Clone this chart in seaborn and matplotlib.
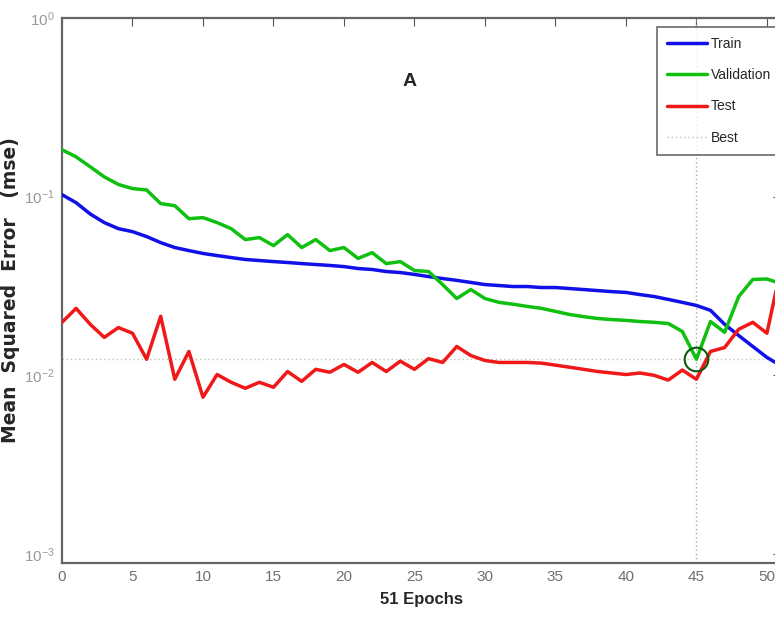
import numpy as np
import pandas as pd
import matplotlib
matplotlib.use("Agg")
import matplotlib.pyplot as plt
import seaborn as sns
from matplotlib.lines import Line2D

epochs = list(range(52))
train = [0.1026, 0.0925, 0.080, 0.0716, 0.0662, 0.0637, 0.0598, 0.0553, 0.0519, 0.0499,
         0.0481, 0.0468, 0.0456, 0.0445, 0.0439, 0.0433, 0.0428, 0.0422, 0.0417, 0.0412,
         0.0406, 0.0396, 0.0391, 0.0381, 0.0376, 0.0367, 0.0357, 0.0348, 0.0340, 0.0331,
         0.0322, 0.0318, 0.0314, 0.0314, 0.0310, 0.0310, 0.0306, 0.0302, 0.0298, 0.0294,
         0.0291, 0.0283, 0.0276, 0.0266, 0.0256, 0.0246, 0.0231, 0.0193, 0.0167, 0.0145,
         0.0126, 0.0113]
validation = [0.183, 0.167, 0.147, 0.129, 0.117, 0.111, 0.109, 0.0914, 0.089, 0.0753,
              0.0763, 0.0716, 0.0662, 0.0575, 0.0590, 0.0532, 0.0613, 0.0519, 0.0575, 0.0499,
              0.0519, 0.0451, 0.0486, 0.0422, 0.0433, 0.0386, 0.0381, 0.0322, 0.0269, 0.0302,
              0.0269, 0.0256, 0.0250, 0.0243, 0.0237, 0.0228, 0.0219, 0.0213, 0.0208, 0.0205,
              0.0203, 0.0200, 0.0198, 0.0195, 0.0176, 0.0123, 0.0200, 0.0174, 0.0276, 0.0344,
              0.0346, 0.0326]
test = [0.0198, 0.0237, 0.0193, 0.0163, 0.0185, 0.0172, 0.0123, 0.0214, 0.0095, 0.0136,
        0.00754, 0.0101, 0.00914, 0.00846, 0.00914, 0.00857, 0.0105, 0.00925, 0.0108, 0.0104,
        0.0115, 0.0104, 0.0118, 0.0105, 0.0120, 0.0108, 0.0124, 0.0118, 0.0145, 0.0129,
        0.0121, 0.0118, 0.0118, 0.0118, 0.0117, 0.0114, 0.0111, 0.0108, 0.0105, 0.0103,
        0.0101, 0.0103, 0.0100, 0.0094, 0.0107, 0.0095, 0.0136, 0.0143, 0.0181, 0.0198,
        0.0172, 0.040]
best_epoch = 45
best_value = 0.0123
x_ticks = [0, 5, 10, 15, 20, 25, 30, 35, 40, 45, 50]
y_ticks = [1e-3, 1e-2, 1e-1, 1e0]

sns.set_style("white")
plt.rcParams["font.family"] = ["Liberation Sans", "DejaVu Sans"]
plt.rcParams["mathtext.fontset"] = "custom"
plt.rcParams["mathtext.rm"] = "Liberation Sans"

df = pd.DataFrame({
    "epoch": epochs * 3,
    "mse": train + validation + test,
    "set": ["Train"] * len(train) + ["Validation"] * len(validation) + ["Test"] * len(test),
})
palette = {"Train": "#1010e8", "Validation": "#10c010", "Test": "#f01818"}

fig = plt.figure(figsize=(7.75, 6.27), dpi=100)
ax = fig.add_axes([62 / 775, 64 / 627, 719 / 775, 545 / 627])

sns.lineplot(data=df, x="epoch", y="mse", hue="set", palette=palette,
             linewidth=2.5, ax=ax, legend=False, zorder=3)

ax.set_yscale("log")
ax.set_xlim(0, 51)
ax.set_ylim(8.9e-4, 1.0)

ax.axhline(best_value, color="#b8c8b0", linestyle=(0, (1, 2)), linewidth=1.0, zorder=2)
ax.axvline(best_epoch, color="#a8a8a8", linestyle=(0, (1, 2)), linewidth=1.0, zorder=2)
ax.plot([best_epoch], [best_value], marker="o", markersize=17, markerfacecolor="none",
        markeredgecolor="#0c5a0c", markeredgewidth=1.5, zorder=4)

ax.set_xticks(x_ticks)
ax.set_xticklabels([str(t) for t in x_ticks], fontsize=11, color="#707070")
ax.set_yticks(y_ticks)
ax.set_yticklabels([r"$\mathregular{10^{-3}}$", r"$\mathregular{10^{-2}}$",
                    r"$\mathregular{10^{-1}}$", r"$\mathregular{10^{0}}$"],
                   fontsize=11, color="#999999")
ax.tick_params(axis="both", which="both", direction="in", top=True, right=True,
               length=6, color="#555555", pad=5)
ax.tick_params(axis="y", which="minor", length=3)
for s in ax.spines.values():
    s.set_color("#666666")
    s.set_linewidth(1.6)

ax.set_xlabel("51 Epochs", fontsize=12, fontweight="bold", labelpad=6)
ax.set_ylabel("Mean  Squared  Error   (mse)", fontsize=13.5, fontweight="bold",
              family=["DejaVu Sans"])
ax.yaxis.set_label_coords(-0.058, 0.5)
ax.text(0.484, 0.883, "A", transform=ax.transAxes, fontsize=14, fontweight="bold",
        ha="center", va="center")

handles = [Line2D([], [], color=palette["Train"], linewidth=2.5),
           Line2D([], [], color=palette["Validation"], linewidth=2.5),
           Line2D([], [], color=palette["Test"], linewidth=2.5),
           Line2D([], [], color="#b8c8b0", linestyle=(0, (1, 2)), linewidth=1.0)]
leg = fig.legend(handles, ["Train", "Validation", "Test", "Best"],
                 loc="upper left", bbox_to_anchor=(657 / 775, 1 - 27 / 627),
                 frameon=True, fancybox=False, handlelength=2.9, handletextpad=0.3,
                 borderpad=0.7, borderaxespad=0, labelspacing=1.25,
                 prop={"size": 10})
leg.get_frame().set_edgecolor("#444444")
leg.get_frame().set_linewidth(1.2)

fig.savefig("out.png", dpi=100)
